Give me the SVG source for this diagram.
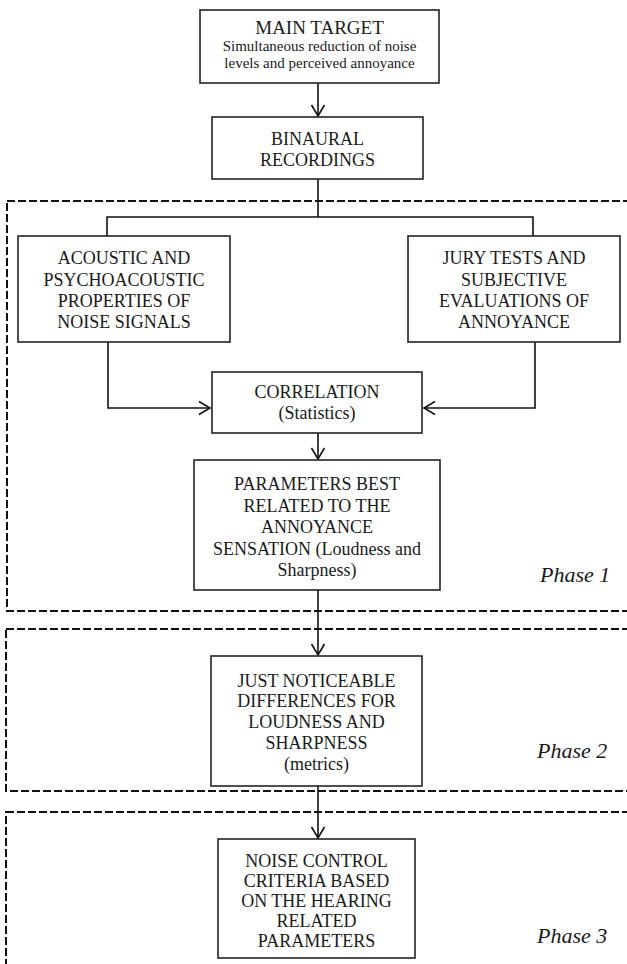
<svg xmlns="http://www.w3.org/2000/svg" width="627" height="964" viewBox="0 0 627 964">
<style>
.bg{fill:#fff}
.box{fill:#fff;stroke:#222;stroke-width:1.6}
.phase{fill:none;stroke:#111;stroke-width:2;stroke-dasharray:8 3}
.t{font-family:'Liberation Serif',Tinos,'Times New Roman',Times,'DejaVu Serif','Noto Serif',serif;font-size:18px;fill:#1a1a1a;text-anchor:middle}
.s{font-size:15px}
.h{font-size:19px}
.p{font-family:'Liberation Serif',Tinos,'Times New Roman',Times,'DejaVu Serif','Noto Serif',serif;font-size:22px;font-style:italic;fill:#1a1a1a}
.c{fill:none;stroke:#111;stroke-width:1.6}
</style>
<defs>
<marker id="arr" markerUnits="userSpaceOnUse" markerWidth="14" markerHeight="16" viewBox="0 0 14 16" refX="12" refY="8" orient="auto">
<path d="M1,1.5 L12,8 L1,14.5" fill="none" stroke="#111" stroke-width="1.6"/>
</marker>
</defs>
<rect class="bg" x="0" y="0" width="627" height="964"/>

<g id="phases">
<rect id="phase1" class="phase" x="7" y="201" width="640" height="410"/>
<rect id="phase2" class="phase" x="6" y="629" width="640" height="162"/>
<rect id="phase3" class="phase" x="6" y="812" width="640" height="180"/>
<text class="p" x="540" y="582">Phase 1</text>
<text class="p" x="537" y="758">Phase 2</text>
<text class="p" x="537" y="943">Phase 3</text>
</g>

<g id="connectors">
<path class="c" d="M318,83 V116" marker-end="url(#arr)"/>
<path class="c" d="M318,179 V217 M107,236 V217 H533 V236"/>
<path class="c" d="M108,342 V408 H210" marker-end="url(#arr)"/>
<path class="c" d="M535,342 V408 H424" marker-end="url(#arr)"/>
<path class="c" d="M318,433 V459" marker-end="url(#arr)"/>
<path class="c" d="M318,590 V655" marker-end="url(#arr)"/>
<path class="c" d="M318,786 V838" marker-end="url(#arr)"/>
</g>

<g id="main-target">
<rect class="box" x="200" y="10" width="239" height="73"/>
<text class="t h" x="319.5" y="34">MAIN TARGET</text>
<text class="t s" x="319.5" y="51">Simultaneous reduction of noise</text>
<text class="t s" x="319.5" y="68">levels and perceived annoyance</text>
</g>

<g id="binaural">
<rect class="box" x="212" y="117" width="211" height="62"/>
<text class="t" x="317.5" y="145">BINAURAL</text>
<text class="t" x="317.5" y="166">RECORDINGS</text>
</g>

<g id="acoustic">
<rect class="box" x="18" y="236" width="212" height="106"/>
<text class="t" x="124" y="264">ACOUSTIC AND</text>
<text class="t" x="124" y="286">PSYCHOACOUSTIC</text>
<text class="t" x="124" y="307">PROPERTIES OF</text>
<text class="t" x="124" y="328">NOISE SIGNALS</text>
</g>

<g id="jury">
<rect class="box" x="408" y="236" width="212" height="106"/>
<text class="t" x="514" y="264">JURY TESTS AND</text>
<text class="t" x="514" y="286">SUBJECTIVE</text>
<text class="t" x="514" y="307">EVALUATIONS OF</text>
<text class="t" x="514" y="328">ANNOYANCE</text>
</g>

<g id="correlation">
<rect class="box" x="212" y="372" width="210" height="61"/>
<text class="t" x="317" y="398">CORRELATION</text>
<text class="t" x="317" y="419">(Statistics)</text>
</g>

<g id="parameters">
<rect class="box" x="194" y="460" width="246" height="130"/>
<text class="t" x="317" y="490">PARAMETERS BEST</text>
<text class="t" x="317" y="512">RELATED TO THE</text>
<text class="t" x="317" y="533">ANNOYANCE</text>
<text class="t" x="317" y="555">SENSATION (Loudness and</text>
<text class="t" x="317" y="576">Sharpness)</text>
</g>

<g id="jnd">
<rect class="box" x="211" y="656" width="211" height="130"/>
<text class="t" x="316.5" y="687">JUST NOTICEABLE</text>
<text class="t" x="316.5" y="707">DIFFERENCES FOR</text>
<text class="t" x="316.5" y="728">LOUDNESS AND</text>
<text class="t" x="316.5" y="749">SHARPNESS</text>
<text class="t" x="316.5" y="770">(metrics)</text>
</g>

<g id="noise-control">
<rect class="box" x="218" y="839" width="197" height="119"/>
<text class="t" x="316.5" y="867">NOISE CONTROL</text>
<text class="t" x="316.5" y="887">CRITERIA BASED</text>
<text class="t" x="316.5" y="907">ON THE HEARING</text>
<text class="t" x="316.5" y="927">RELATED</text>
<text class="t" x="316.5" y="947">PARAMETERS</text>
</g>
</svg>
